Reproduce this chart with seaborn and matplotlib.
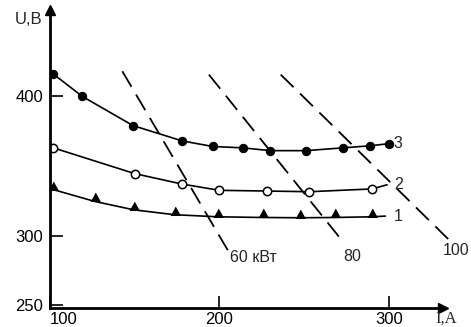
import seaborn as sns
import matplotlib.pyplot as plt

sns.set_style("white")
plt.rcParams['font.family'] = ['Liberation Sans', 'DejaVu Sans']

# curve 3 (filled circles)
I3 = [102, 119, 149, 178, 196, 214, 230, 251, 273, 289, 300]
U3 = [416, 400, 379, 368, 364, 363, 361, 361, 363, 364.5, 366]
# curve 2 (open circles), last point is the line end only
I2 = [102, 150, 178, 200, 228, 253, 290, 299]
U2 = [363, 344.5, 337, 332.5, 332, 331.5, 333.5, 336.5]
# curve 1 (triangles), last point is the line end only
I1 = [102, 126.5, 149.5, 173.5, 199, 225.5, 247.5, 268, 290, 298]
U1 = [333, 324.5, 318.5, 315, 313.5, 313, 312.8, 313, 313.5, 314]

# constant power lines
power_labels = ['60 кВт', '80', '100']
power_I = [[142.7, 205.2], [193.8, 273.0], [236.2, 336.0]]
power_U = [[418.0, 289.0], [415.6, 295.5], [415.6, 296.4]]
power_label_pos = [(206.5, 284.0), (273.2, 284.7), (332.0, 289.0)]

curve_labels = ['3', '2', '1']
curve_label_pos = [(303, 366), (303, 337), (303, 314)]

fig = plt.figure(figsize=(4.71, 3.27), dpi=100)
ax = fig.add_axes([50/471, 19/327, 393/471, 298/327])

sns.lineplot(x=I3, y=U3, ax=ax, color='black', lw=1.2, marker='o', markersize=6,
             markerfacecolor='black', markeredgecolor='black')
sns.lineplot(x=I2, y=U2, ax=ax, color='black', lw=1.2, marker='o', markersize=6,
             markerfacecolor='white', markeredgecolor='black', markeredgewidth=1.1,
             markevery=slice(0, len(I2) - 1))
sns.lineplot(x=I1, y=U1, ax=ax, color='black', lw=1.2, marker=[(-1, 0), (1, 0), (0, 1.8)],
             markersize=12, markerfacecolor='black', markeredgecolor='black',
             markevery=slice(0, len(I1) - 1))

for xs, ys in zip(power_I, power_U):
    sns.lineplot(x=xs, y=ys, ax=ax, color='black', lw=1.3, dashes=False,
                 linestyle=(0, (10, 5)), clip_on=False)

for txt, (x, y) in zip(power_labels, power_label_pos):
    ax.text(x, y, txt, ha='left', va='center', fontsize=11.5)
for txt, (x, y) in zip(curve_labels, curve_label_pos):
    ax.text(x, y, txt, ha='left', va='center', fontsize=11.5)

ax.set_xlim(100, 332)
ax.set_ylim(248, 462)
ax.set_xticks([100, 200, 300])
ax.set_yticks([250, 300, 400])
ax.tick_params(direction='in', length=9, width=1.2, labelsize=12, colors='black',
               left=True, bottom=True)
ax.tick_params(axis='y', pad=5)
ax.tick_params(axis='x', pad=3)
ax.xaxis.get_major_ticks()[0].label1.set_horizontalalignment('left')

for s in ['top', 'right']:
    ax.spines[s].set_visible(False)
for s in ['left', 'bottom']:
    ax.spines[s].set_linewidth(2)
    ax.spines[s].set_color('black')
ax.plot(1, 0, '>', color='black', ms=7, transform=ax.transAxes, clip_on=False)
ax.plot(0, 1, '^', color='black', ms=7, transform=ax.transAxes, clip_on=False)

ax.text(95.5, 455, 'U,B', ha='right', va='center', fontsize=12)
ax.text(327.7, 240, 'I,A', ha='left', va='center', fontsize=12, family='Liberation Serif')

ax.set_xlabel('')
ax.set_ylabel('')
fig.savefig('out.png', dpi=100)
